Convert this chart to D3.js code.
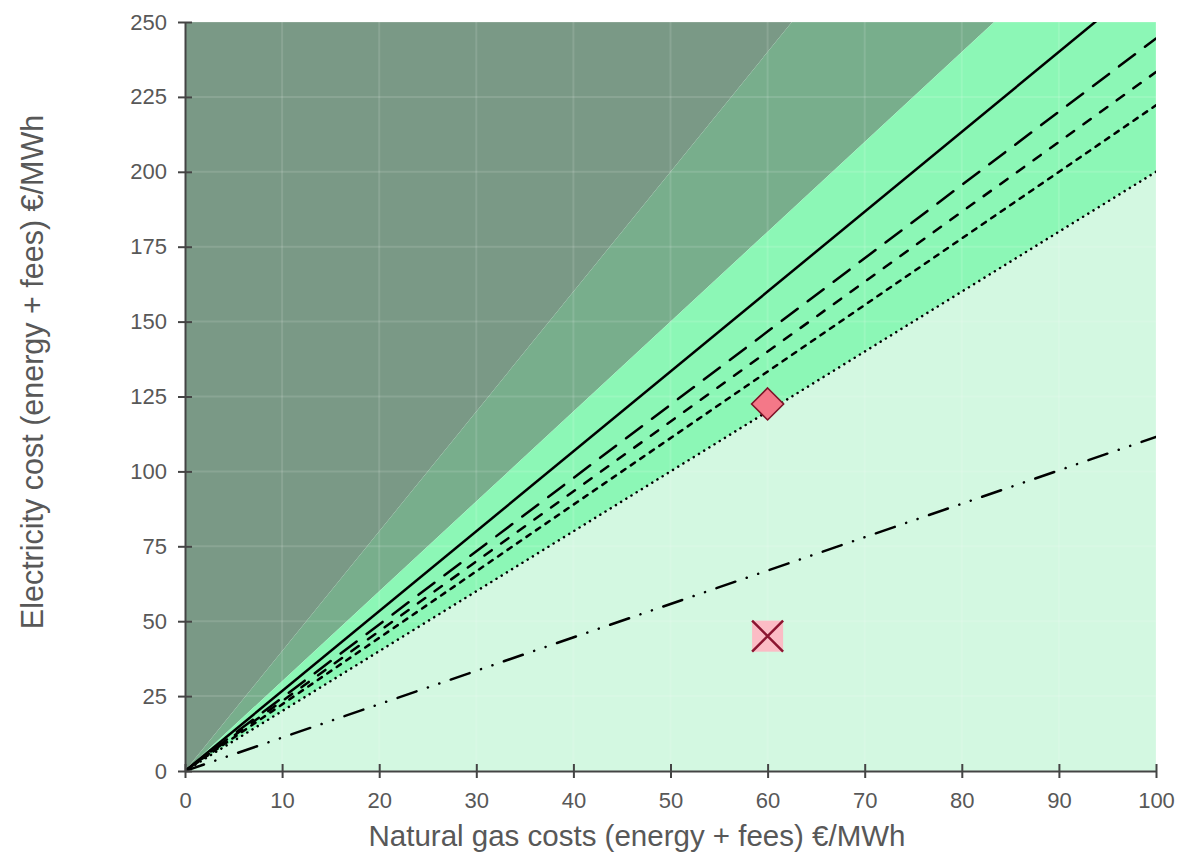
<!DOCTYPE html>
<html>
<head>
<meta charset="utf-8">
<script src="https://cdn.jsdelivr.net/npm/d3@7"></script>
<style>
  html, body { margin: 0; padding: 0; background: #fff; }
  svg { display: block; font-family: "Liberation Sans", Arial, Helvetica, sans-serif; }
</style>
</head>
<body>
<svg id="chart" width="1183" height="852"></svg>
<script>
// Axis ticks
const gasTicks = [0, 10, 20, 30, 40, 50, 60, 70, 80, 90, 100];
const elecTicks = [0, 25, 50, 75, 100, 125, 150, 175, 200, 225, 250];

// Zone boundaries: electricity / gas price ratios, steepest first
const zoneRatios = [4.0, 3.0, 2.0];
const zoneColors = ["#7a9986", "#78ae8c", "#8cf7b6", "#d3f8e1"];

// Break-even lines: electricity cost reached at 100 €/MWh gas
const lineNames = ["solid", "longDash", "dash", "shortDash", "dotted", "dashDotDot"];
const lineElecAt100 = [266.7, 244.5, 233.3, 222.2, 200.0, 111.5];
const lineDash = [null, "20,12.5", "9,11.5", "5,6.5", "0.1,6", "20,12,0.1,12,0.1,12"];

// Marked price points
const pointGas = [60, 60];
const pointElec = [122.5, 45];
const pointShape = ["diamond", "crossSquare"];

const svg = d3.select("#chart");
const margin = { left: 185, right: 1183 - 1156, top: 22, bottom: 852 - 771 };
const W = 1183, H = 852;

const x = d3.scaleLinear().domain([0, 100]).range([margin.left, W - margin.right]);
const y = d3.scaleLinear().domain([0, 250]).range([H - margin.bottom, margin.top]);

svg.append("defs").append("clipPath").attr("id", "plotClip")
  .append("rect")
  .attr("x", x(0)).attr("y", y(250))
  .attr("width", x(100) - x(0)).attr("height", y(0) - y(250));

const plot = svg.append("g").attr("clip-path", "url(#plotClip)");

// Zones: wedges from the origin between consecutive ratio lines
const edgePoint = r => (r * 100 > 250 ? [250 / r, 250] : [100, r * 100]);
const bounds = [null, ...zoneRatios, 0];
const zones = [];
for (let i = 0; i < bounds.length - 1; i++) {
  const upper = bounds[i], lower = bounds[i + 1];
  const pts = [[0, 0]];
  if (upper === null) pts.push([0, 250]); else pts.push(edgePoint(upper));
  // include the corner (100,250) when the wedge wraps it
  const up = upper === null ? Infinity : upper;
  if (up > 2.5 && lower < 2.5) pts.push([100, 250]);
  if (lower === 0) pts.push([100, 0]); else pts.push(edgePoint(lower));
  zones.push(pts);
}
const area = d3.line().x(d => x(d[0])).y(d => y(d[1]));
plot.selectAll("path.zone").data(zones).join("path")
  .attr("class", "zone")
  .attr("d", d => area(d) + "Z")
  .attr("fill", (d, i) => zoneColors[i]);

// Grid
const gridStroke = "rgba(255,255,255,0.12)";
plot.selectAll("line.gx").data(gasTicks).join("line")
  .attr("x1", d => x(d)).attr("x2", d => x(d))
  .attr("y1", y(0)).attr("y2", y(250))
  .attr("stroke", gridStroke).attr("stroke-width", 2);
plot.selectAll("line.gy").data(elecTicks).join("line")
  .attr("y1", d => y(d)).attr("y2", d => y(d))
  .attr("x1", x(0)).attr("x2", x(100))
  .attr("stroke", gridStroke).attr("stroke-width", 2);

// Break-even lines
const lines = lineNames.map((n, i) => ({ name: n, pts: [[0, 0], [100, lineElecAt100[i]]], dash: lineDash[i] }));
plot.selectAll("path.ratio").data(lines).join("path")
  .attr("class", "ratio")
  .attr("d", d => area(d.pts))
  .attr("fill", "none")
  .attr("stroke", "#000")
  .attr("stroke-width", 2.5)
  .attr("stroke-linecap", d => d.dash ? "round" : "butt")
  .attr("stroke-dasharray", d => d.dash);

// Axes
const tickColor = "#444", labelColor = "#585858";
const yAxis = svg.append("g").attr("transform", `translate(${x(0)},0)`)
  .call(d3.axisLeft(y).tickValues(elecTicks).tickSize(7).tickPadding(11).tickSizeOuter(0));
yAxis.selectAll(".tick line").attr("x1", 7);
const xAxis = svg.append("g").attr("transform", `translate(0,${y(0)})`)
  .call(d3.axisBottom(x).tickValues(gasTicks).tickSize(7).tickPadding(14).tickSizeOuter(0));
xAxis.selectAll(".tick line").attr("y1", -7);
[xAxis, yAxis].forEach(a => {
  a.select(".domain").attr("stroke", tickColor).attr("stroke-width", 2);
  a.selectAll(".tick line").attr("stroke", tickColor).attr("stroke-width", 2);
  a.selectAll(".tick text").attr("fill", labelColor)
    .style("font-size", "22px").style("font-family", "'Liberation Sans', Arial, sans-serif");
});

// Markers
const markers = svg.append("g");
pointShape.forEach((shape, i) => {
  const cx = x(pointGas[i]), cy = y(pointElec[i]);
  if (shape === "diamond") {
    const h = 16;
    markers.append("path")
      .attr("d", `M${cx},${cy - h}L${cx + h},${cy}L${cx},${cy + h}L${cx - h},${cy}Z`)
      .attr("fill", "#f47888").attr("stroke", "#7d1428").attr("stroke-width", 1.6);
  } else {
    const h = 15.5;
    markers.append("rect")
      .attr("x", cx - h).attr("y", cy - h).attr("width", 2 * h).attr("height", 2 * h)
      .attr("fill", "#fbbcc5");
    markers.append("path")
      .attr("d", `M${cx - h},${cy - h}L${cx + h},${cy + h}M${cx + h},${cy - h}L${cx - h},${cy + h}`)
      .attr("stroke", "#8b1530").attr("stroke-width", 2.5).attr("fill", "none");
  }
});

// Axis titles
svg.append("text")
  .attr("x", 637).attr("y", 846)
  .attr("text-anchor", "middle")
  .attr("fill", labelColor)
  .style("font-size", "29.5px")
  .text("Natural gas costs (energy + fees) €/MWh");
svg.append("text")
  .attr("transform", "translate(32,372) rotate(-90)")
  .attr("text-anchor", "middle")
  .attr("dominant-baseline", "central")
  .attr("fill", labelColor)
  .style("font-size", "30.5px")
  .text("Electricity cost (energy + fees) €/MWh");
</script>
</body>
</html>
